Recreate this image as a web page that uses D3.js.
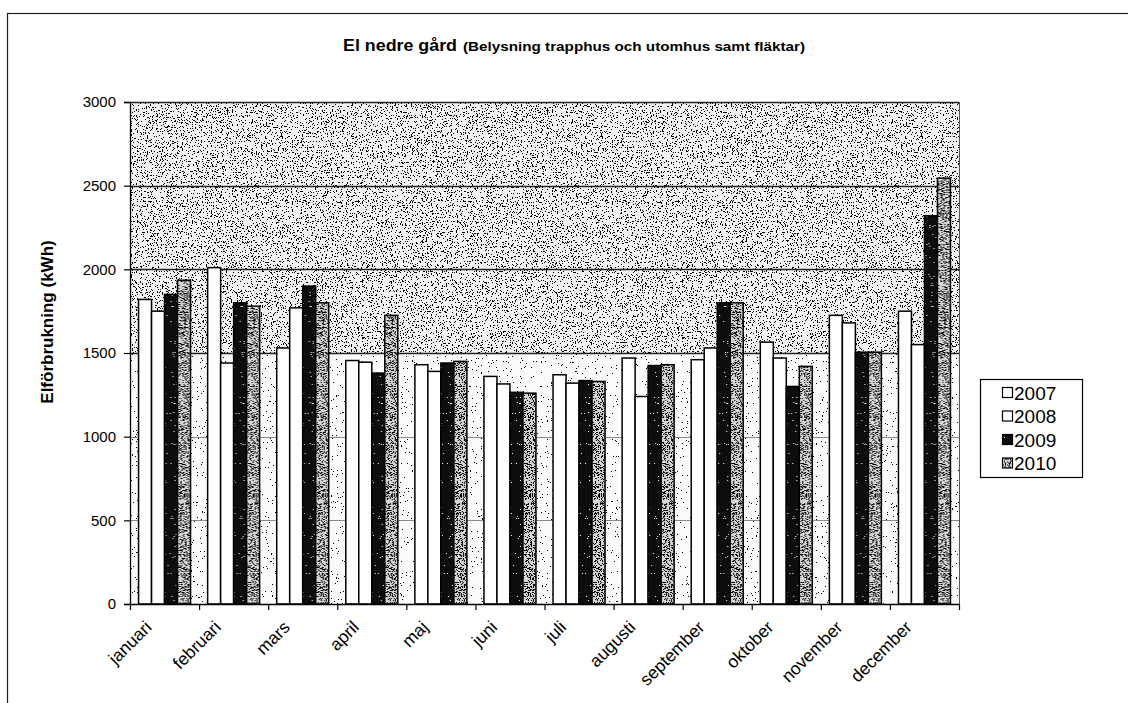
<!DOCTYPE html>
<html>
<head>
<meta charset="utf-8">
<script src="https://cdn.jsdelivr.net/npm/d3@7"></script>
<style>
  html, body { margin: 0; padding: 0; background: #fff; }
  svg { display: block; font-family: "Liberation Sans", Arial, sans-serif; }
</style>
</head>
<body>
<svg id="chart" width="1128" height="703"></svg>
<script>
// Monthly electricity use, kWh
const months = ["januari", "februari", "mars", "april", "maj", "juni",
                "juli", "augusti", "september", "oktober", "november", "december"];
const years = ["2007", "2008", "2009", "2010"];
const v2007 = [1820, 2010, 1530, 1455, 1430, 1360, 1370, 1470, 1460, 1565, 1725, 1750];
const v2008 = [1750, 1440, 1770, 1445, 1390, 1315, 1320, 1240, 1530, 1470, 1680, 1550];
const v2009 = [1850, 1800, 1900, 1380, 1440, 1265, 1335, 1425, 1800, 1300, 1505, 2320];
const v2010 = [1935, 1780, 1800, 1725, 1450, 1260, 1330, 1430, 1800, 1420, 1505, 2545];
const yTicks = [0, 500, 1000, 1500, 2000, 2500, 3000];

const seriesValues = [v2007, v2008, v2009, v2010];
const series = years.map((yr, i) => ({ year: yr, values: seriesValues[i] }));

const W = 1128, H = 703;
const plot = { left: 130, right: 959, top: 102, bottom: 604 };

const svg = d3.select("#chart");
const defs = svg.append("defs");

// Grain texture: thresholded fractal noise gives a scattered-dot fill
function speckleFilter(id, cut, rgb, seed, freq) {
  const f = defs.append("filter").attr("id", id)
    .attr("x", 0).attr("y", 0).attr("width", 1).attr("height", 1)
    .attr("color-interpolation-filters", "sRGB");
  f.append("feTurbulence").attr("type", "fractalNoise")
    .attr("baseFrequency", freq).attr("numOctaves", 2).attr("seed", seed);
  f.append("feColorMatrix").attr("type", "matrix").attr("values",
    `0 0 0 0 ${rgb}  0 0 0 0 ${rgb}  0 0 0 0 ${rgb}  1 0 0 0 ${0.5 - cut}`);
  f.append("feComponentTransfer").append("feFuncA")
    .attr("type", "discrete").attr("tableValues", "0 1");
}
speckleFilter("grainDense", 0.625, 0, 3, 0.8);
speckleFilter("grainLight", 0.72, 0, 7, 0.8);
speckleFilter("grainBar10", 0.56, 0, 11, 0.95);
speckleFilter("grainBar09", 0.74, 1, 13, 0.9);

function barPattern(id, base, filterId) {
  const p = defs.append("pattern").attr("id", id)
    .attr("patternUnits", "userSpaceOnUse").attr("width", W).attr("height", H);
  p.append("rect").attr("width", W).attr("height", H).attr("fill", base);
  if (filterId) p.append("rect").attr("width", W).attr("height", H).attr("filter", `url(#${filterId})`);
}
barPattern("fill2009", "#0d0d0d", "grainBar09");
barPattern("fill2010", "#d4d4d4", "grainBar10");

const fills = { "2007": "#ffffff", "2008": "#ffffff", "2009": "url(#fill2009)", "2010": "url(#fill2010)" };

// Outer chart frame
svg.append("rect").attr("x", 7.5).attr("y", 13.5).attr("width", 1200).attr("height", 800)
  .attr("fill", "#fff").attr("stroke", "#222").attr("stroke-width", 1.2);

// Scales
const x = d3.scaleBand().domain(months).range([plot.left, plot.right]).padding(0);
const groupW = 52;
const xi = d3.scaleBand().domain(years).range([0, groupW]).padding(0);
const y = d3.scaleLinear().domain([0, 3000]).range([plot.bottom, plot.top]);

// Plot background: denser grain above 1500, lighter below
const pw = plot.right - plot.left;
svg.append("rect").attr("x", plot.left).attr("y", y(3000)).attr("width", pw)
  .attr("height", y(1500) - y(3000)).attr("fill", "#f2f2f2");
svg.append("rect").attr("x", plot.left).attr("y", y(3000)).attr("width", pw)
  .attr("height", y(1500) - y(3000)).attr("filter", "url(#grainDense)");
svg.append("rect").attr("x", plot.left).attr("y", y(1500)).attr("width", pw)
  .attr("height", y(0) - y(1500)).attr("fill", "#fbfbfb");
svg.append("rect").attr("x", plot.left).attr("y", y(1500)).attr("width", pw)
  .attr("height", y(0) - y(1500)).attr("filter", "url(#grainLight)");

// Gridlines
svg.append("g").selectAll("line").data(yTicks.filter(t => t > 0)).join("line")
  .attr("x1", plot.left).attr("x2", plot.right)
  .attr("y1", d => Math.round(y(d)) + 0.5).attr("y2", d => Math.round(y(d)) + 0.5)
  .attr("stroke", d => d >= 1500 ? "#222" : "#8a8a8a")
  .attr("stroke-width", d => d >= 1500 ? 1.3 : 1);

// Plot frame (right edge)
svg.append("line").attr("x1", plot.right + 0.5).attr("x2", plot.right + 0.5)
  .attr("y1", plot.top).attr("y2", plot.bottom).attr("stroke", "#555");

// Bars
const groups = svg.append("g").selectAll("g").data(months).join("g")
  .attr("transform", m => `translate(${x(m) + (x.bandwidth() - groupW) / 2},0)`);
groups.selectAll("rect").data((m, mi) => series.map(s => ({ year: s.year, v: s.values[mi] })))
  .join("rect")
  .attr("x", d => xi(d.year))
  .attr("y", d => y(d.v))
  .attr("width", xi.bandwidth())
  .attr("height", d => y(0) - y(d.v))
  .attr("fill", d => fills[d.year])
  .attr("stroke", "#000").attr("stroke-width", 1.5);

// Y axis
const yAxis = d3.axisLeft(y).tickValues(yTicks).tickSize(6).tickPadding(8).tickFormat(d3.format("d"));
const gy = svg.append("g").attr("transform", `translate(${plot.left},0)`).call(yAxis);
gy.select(".domain").attr("stroke", "#000").attr("stroke-width", 1.3);
gy.selectAll(".tick line").attr("stroke", "#000").attr("stroke-width", 1.2);
gy.selectAll(".tick text").attr("font-size", 15).attr("fill", "#000")
  .attr("font-family", "'Liberation Sans', Arial, sans-serif");

// X axis: ticks between categories
const gx = svg.append("g").attr("transform", `translate(0,${plot.bottom})`);
gx.append("line").attr("x1", plot.left).attr("x2", plot.right + 1)
  .attr("y1", 0.5).attr("y2", 0.5).attr("stroke", "#000").attr("stroke-width", 1.3);
const bounds = months.map(m => x(m)).concat([plot.right]);
gx.selectAll("line.tk").data(bounds).join("line").attr("class", "tk")
  .attr("x1", d => d + 0.5).attr("x2", d => d + 0.5).attr("y1", 0).attr("y2", 6)
  .attr("stroke", "#000").attr("stroke-width", 1.2);
gx.selectAll("text").data(months).join("text")
  .attr("transform", m => `translate(${x(m) + x.bandwidth() / 2 - 16},${20}) rotate(-45)`)
  .attr("text-anchor", "end").attr("dy", "0.35em")
  .attr("font-size", 17.5).attr("fill", "#000")
  .text(m => m);

// Y axis title
svg.append("text")
  .attr("transform", `translate(47,322) rotate(-90)`)
  .attr("text-anchor", "middle").attr("dy", "0.35em")
  .attr("font-size", 17).attr("font-weight", "bold").attr("fill", "#000")
  .text("Elförbrukning (kWh)");

// Title
const title = svg.append("text").attr("y", 51).attr("fill", "#000").attr("font-weight", "bold");
title.append("tspan").attr("x", 343).attr("font-size", 17)
  .attr("textLength", 114).attr("lengthAdjust", "spacingAndGlyphs").text("El nedre gård");
title.append("tspan").attr("x", 463).attr("font-size", 12)
  .attr("textLength", 342).attr("lengthAdjust", "spacingAndGlyphs")
  .text("(Belysning trapphus och utomhus samt fläktar)");

// Legend
const lg = svg.append("g");
lg.append("rect").attr("x", 980.5).attr("y", 379.5).attr("width", 102).attr("height", 98)
  .attr("fill", "#fff").attr("stroke", "#000").attr("stroke-width", 1.2);
const ly = d3.scalePoint().domain(years).range([393, 463.5]);
const items = lg.selectAll("g").data(years).join("g")
  .attr("transform", d => `translate(1002,${ly(d)})`);
items.append("rect").attr("x", 0.5).attr("y", -5.5).attr("width", 10).attr("height", 10)
  .attr("fill", d => fills[d]).attr("stroke", "#000").attr("stroke-width", 1.2);
items.append("text").attr("x", 12).attr("dy", "0.36em").attr("font-size", 19).attr("fill", "#000")
  .text(d => d);
</script>
</body>
</html>
